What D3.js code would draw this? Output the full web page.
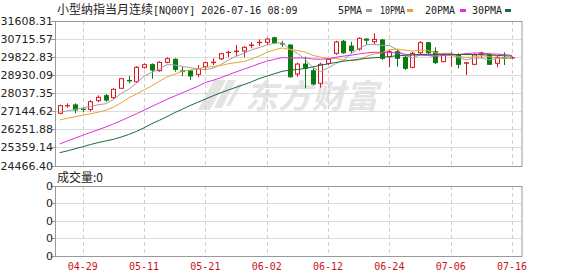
<!DOCTYPE html>
<html>
<head>
<meta charset="utf-8">
<script src="https://cdn.jsdelivr.net/npm/d3@7"></script>
<style>
  body { margin: 0; background: #fff; }
  svg { display: block; }
</style>
</head>
<body>
<div id="chart"></div>
<script>
// trading days shown
const dates = ['04-24','04-27','04-28','04-29','04-30','05-01','05-04','05-05','05-06','05-07',
  '05-08','05-11','05-12','05-13','05-14','05-15','05-18','05-19','05-20','05-21',
  '05-22','05-25','05-26','05-27','05-28','05-29','06-01','06-02','06-03','06-04',
  '06-05','06-08','06-09','06-10','06-11','06-12','06-15','06-16','06-17','06-18',
  '06-19','06-22','06-23','06-24','06-25','06-26','06-29','06-30','07-01','07-02',
  '07-03','07-06','07-07','07-08','07-09','07-10','07-13','07-14','07-15','07-16'];

const open  = [27046,27415,27460,27250,27242,27670,27915,27817,28282,28670,28607,29320,29448,29152,29567,29715,29140,29137,28973,29350,
  29550,29745,30050,30100,30125,30400,30540,30555,30780,30480,30420,28990,29480,29150,28530,29517,30010,30604,30370,30224,
  30715,30585,30670,29845,30090,29813,29320,30040,30535,30090,29600,29950,29930,29520,29468,30010,29930,29517,29800,29780];
const high  = [27470,27540,27540,27340,27700,27935,28000,28280,28800,28890,29385,29517,29517,29620,29813,29764,29350,29186,29434,29600,
  29764,30040,30140,30420,30370,30555,30700,30780,30830,30634,30460,29545,29845,29320,29547,29764,30634,30670,30585,30800,
  30750,31000,30720,30175,30210,29880,30090,30620,30570,30310,30010,30060,30010,29560,30010,30090,30040,29880,30060,29850];
const low   = [27000,27320,27046,27110,27140,27590,27620,27760,28245,28530,28560,29250,28756,29100,29517,29100,28890,28690,28825,29200,
  29433,29680,29813,29880,29813,30260,30380,30420,30480,30340,28800,28855,28282,28430,28312,29433,29940,29990,30010,30140,
  30420,30470,29680,29320,29350,29186,29270,29980,29990,29480,29570,29350,29270,28940,29420,29765,29430,29320,29430,29740];
const close = [27421,27425,27210,27240,27620,27837,27700,28232,28756,28650,29320,29448,29186,29567,29745,29220,29110,28890,29250,29548,
  29570,29992,30060,30120,30308,30420,30555,30715,30535,30470,28855,29480,29270,28494,29468,29715,30570,30040,30140,30752,
  30660,30700,29765,30090,29765,29270,30010,30535,30040,29550,29930,29960,29468,29545,29930,30020,29468,29813,29770,29790];

const ma5  = [27110,27160,27235,27308,27383,27466,27521,27726,28029,28235,28532,28881,29072,29234,29453,29433,29366,29306,29243,29204,
  29274,29450,29684,29858,30010,30180,30293,30424,30507,30539,30226,30011,29722,29314,29113,29285,29503,29657,29987,30243,
  30432,30458,30403,30393,30196,29918,29780,29934,29924,29881,30013,30003,29790,29691,29767,29785,29686,29755,29800,29772];
const ma10 = [26720,26800,26880,26950,27020,27100,27200,27350,27560,27809,27999,28201,28399,28632,28844,28983,29124,29189,29239,29329,
  29354,29408,29495,29551,29607,29727,29872,30054,30183,30275,30203,30152,30073,29911,29826,29756,29757,29690,29651,29678,
  29859,29981,30030,30190,30220,30175,30119,30169,30159,30039,29966,29892,29862,29808,29824,29899,29845,29773,29746,29770];
const ma20 = [25530,25680,25820,25960,26100,26230,26370,26520,26680,26850,27020,27200,27380,27560,27740,27900,28060,28220,28380,28569,
  28677,28805,28947,29092,29226,29355,29498,29622,29711,29802,29779,29780,29784,29731,29717,29742,29815,29872,29917,29977,
  30031,30067,30052,30051,30023,29966,29938,29930,29905,29859,29913,29937,29946,29999,30022,30037,29982,29971,29953,29905];
const ma30 = [25100,25190,25290,25395,25500,25600,25680,25760,25870,26000,26150,26330,26530,26700,26880,27080,27250,27430,27590,27750,
  27910,28060,28200,28330,28460,28600,28760,28880,29000,29120,29180,29210,29260,29340,29420,29490,29560,29620,29670,29720,
  29760,29790,29810,29850,29890,29910,29930,29950,29960,29960,29960,29960,29950,29950,29950,29950,29930,29910,29890,29870];

const yTicks = [24466.40, 25359.14, 26251.88, 27144.62, 28037.35, 28930.09, 29822.83, 30715.57, 31608.31];
const xTickLabels = ['04-29','05-11','05-21','06-02','06-12','06-24','07-06','07-16'];
const volTicks = [0, 1, 2, 3, 4];

const maSeries = [
  { name: '5PMA', values: ma5, color: '#a0a0a0' },
  { name: '10PMA', values: ma10, color: '#e8a630' },
  { name: '20PMA', values: ma20, color: '#e02ee0' },
  { name: '30PMA', values: ma30, color: '#1a6b3c' }
];

const width = 578, height = 276;
const pLeft = 55.5, pRight = 522, pTop = 21, pBottom = 165.5;
const vTop = 186, vBottom = 255.5;

const svg = d3.select('#chart').append('svg')
  .attr('width', width)
  .attr('height', height);

const x = d3.scaleLinear().domain([-0.55, 60.3]).range([pLeft, pRight]);
const y = d3.scaleLinear().domain([yTicks[0], yTicks[yTicks.length - 1]]).range([pBottom, pTop]);
const yv = d3.scaleLinear().domain([0, 4]).range([vBottom, vTop]);

const px = v => Math.round(v) + 0.5;

// watermark
const wm = svg.append('g').attr('fill', '#e4e4e4');
wm.append('text')
  .attr('x', 245).attr('y', 108)
  .attr('font-family', 'Noto Sans CJK SC')
  .attr('font-weight', 'bold')
  .attr('font-style', 'italic')
  .attr('font-size', 33)
  .attr('textLength', 133)
  .text('东方财富');
wm.append('path').attr('d', 'M214,80 L226,80 L210,110 L198,110 Z');
wm.append('path').attr('d', 'M228,80 L236,80 L222,108 L214,108 Z');
wm.append('path').attr('d', 'M238,84 L242,84 L230,106 L226,106 Z');

// grid: main panel
svg.append('g').selectAll('line')
  .data(yTicks.slice(1, -1))
  .join('line')
  .attr('x1', pLeft).attr('x2', pRight)
  .attr('y1', d => px(y(d))).attr('y2', d => px(y(d)))
  .attr('stroke', '#dcdcdc');

// grid: volume panel
svg.append('g').selectAll('line')
  .data(volTicks.slice(1, -1))
  .join('line')
  .attr('x1', pLeft).attr('x2', pRight)
  .attr('y1', d => px(yv(d))).attr('y2', d => px(yv(d)))
  .attr('stroke', '#dcdcdc');

// vertical dashed lines at date ticks
const tickIdx = xTickLabels.map(l => dates.indexOf(l));
[[pTop, pBottom], [vTop, vBottom]].forEach(([t, b]) => {
  svg.append('g').selectAll('line')
    .data(tickIdx)
    .join('line')
    .attr('x1', d => px(x(d))).attr('x2', d => px(x(d)))
    .attr('y1', t).attr('y2', b)
    .attr('stroke', '#cfcfcf')
    .attr('stroke-dasharray', '4,3');
});

// candles
const idx = d3.range(dates.length);
const candles = svg.append('g').selectAll('g')
  .data(idx)
  .join('g');

candles.append('line')
  .attr('x1', i => px(x(i))).attr('x2', i => px(x(i)))
  .attr('y1', i => y(high[i])).attr('y2', i => y(low[i]))
  .attr('stroke', i => close[i] >= open[i] ? '#e0141e' : '#0a7b12');

candles.append('rect')
  .attr('x', i => Math.round(x(i)) - 2 + 0.5)
  .attr('width', 4)
  .attr('y', i => y(Math.max(open[i], close[i])))
  .attr('height', i => Math.max(0.01, Math.abs(y(open[i]) - y(close[i]))))
  .attr('fill', i => close[i] >= open[i] ? '#fff' : '#0a7b12')
  .attr('stroke', i => close[i] >= open[i] ? '#e0141e' : '#0a7b12');

// moving averages
const line = d3.line().x((d, i) => x(i)).y(d => y(d));
svg.append('g').selectAll('path')
  .data(maSeries)
  .join('path')
  .attr('d', s => line(s.values))
  .attr('fill', 'none')
  .attr('stroke', s => s.color)
  .attr('stroke-width', 1);

// panel borders
svg.append('rect')
  .attr('x', pLeft).attr('y', px(pTop)).attr('width', pRight - pLeft).attr('height', Math.round(pBottom - pTop))
  .attr('fill', 'none').attr('stroke', '#9a9a9a');
svg.append('rect')
  .attr('x', pLeft).attr('y', px(vTop)).attr('width', pRight - pLeft).attr('height', Math.round(vBottom - vTop))
  .attr('fill', 'none').attr('stroke', '#9a9a9a');

// y axis labels and ticks
const yAxis = svg.append('g').attr('font-family', 'DejaVu Sans').attr('font-size', 11).attr('fill', '#222');
yTicks.forEach(v => {
  yAxis.append('line').attr('x1', 51).attr('x2', pLeft).attr('y1', px(y(v))).attr('y2', px(y(v))).attr('stroke', '#9a9a9a');
  yAxis.append('text').attr('x', 53).attr('y', y(v) + 4).attr('text-anchor', 'end').text(v.toFixed(2));
});
volTicks.forEach(v => {
  yAxis.append('line').attr('x1', 51).attr('x2', pLeft).attr('y1', px(yv(v))).attr('y2', px(yv(v))).attr('stroke', '#9a9a9a');
  yAxis.append('text').attr('x', 53).attr('y', yv(v) + 4).attr('text-anchor', 'end').text('0');
});

// x labels
svg.append('g').selectAll('text')
  .data(xTickLabels)
  .join('text')
  .attr('x', d => x(dates.indexOf(d)))
  .attr('y', 270)
  .attr('text-anchor', 'middle')
  .attr('font-family', 'DejaVu Sans Mono')
  .attr('font-size', 10)
  .attr('fill', '#c8141e')
  .text(d => d);

// title
const title = svg.append('text').attr('x', 57).attr('y', 14).attr('fill', '#222');
title.append('tspan').attr('font-family', 'Noto Sans CJK SC').attr('font-size', 12).text('小型纳指当月连续');
title.append('tspan').attr('font-family', 'DejaVu Sans Mono').attr('font-size', 10).text('[NQ00Y] 2026-07-16 08:09');

// legend
const legendText = [338, 380, 425, 472];
const legendLen = [24, 25, 30, 30];
const legendMark = [366, 407, 460, 505];
const legend = svg.append('g');
maSeries.forEach((s, k) => {
  legend.append('text')
    .attr('x', legendText[k]).attr('y', 14)
    .attr('textLength', legendLen[k])
    .attr('lengthAdjust', 'spacingAndGlyphs')
    .attr('font-family', 'DejaVu Sans Mono').attr('font-size', 10).attr('fill', '#222')
    .text(s.name);
  legend.append('rect')
    .attr('x', legendMark[k]).attr('y', 9).attr('width', 6).attr('height', 3)
    .attr('fill', s.color);
});

// volume label
svg.append('text')
  .attr('x', 57).attr('y', 182)
  .attr('font-family', 'Noto Sans CJK SC').attr('font-size', 12).attr('fill', '#222')
  .text('成交量:0');
</script>
</body>
</html>
